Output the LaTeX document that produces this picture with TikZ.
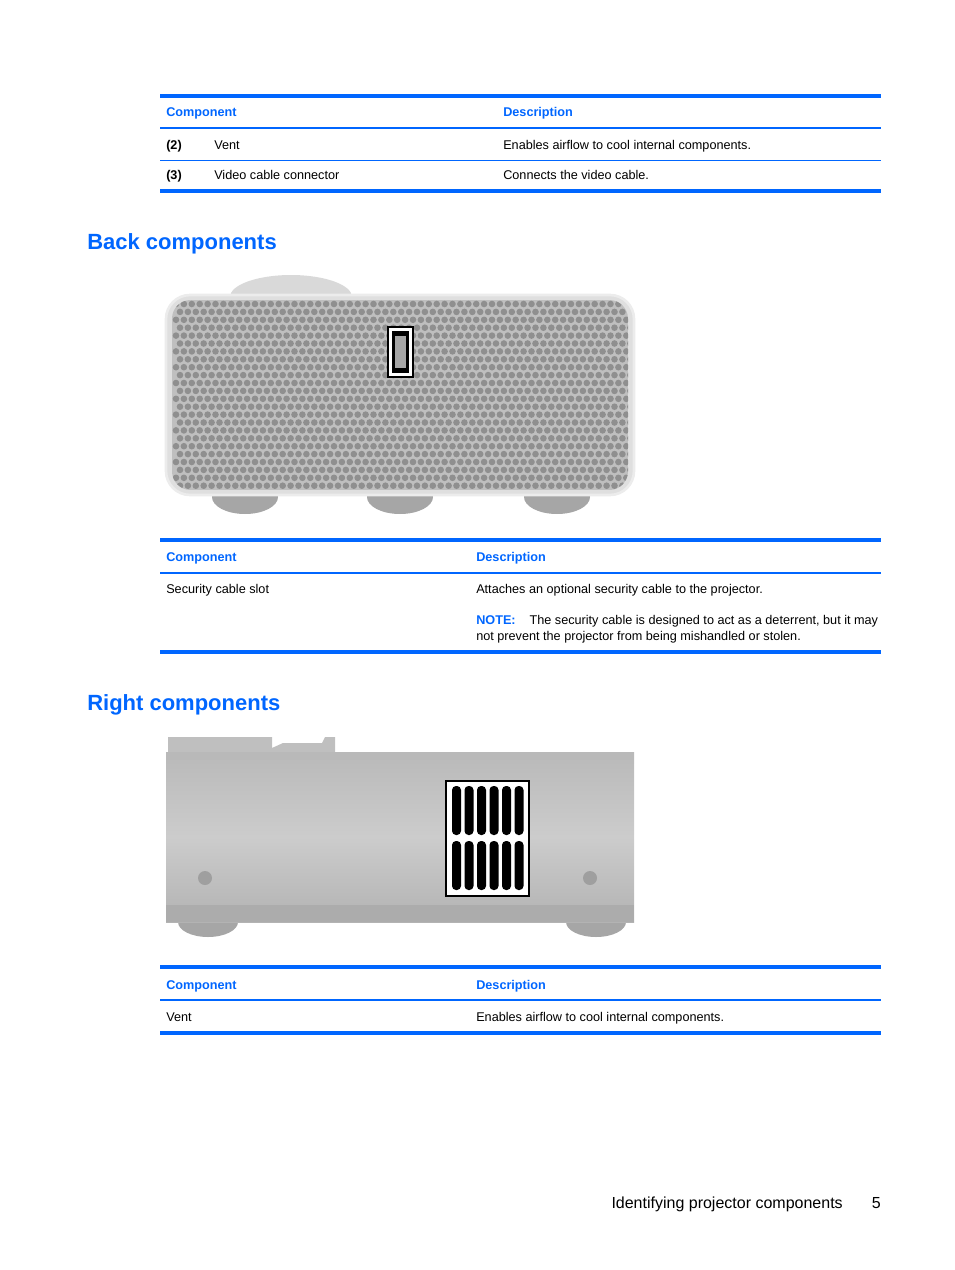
\documentclass[tikz,border=0pt]{standalone}
\usepackage{fontspec}
\setmainfont{Liberation Sans}
\definecolor{hpblue}{RGB}{0,102,255}
\begin{document}
\begin{tikzpicture}[x=0.75pt,y=-0.75pt,
thick rule/.style={hpblue,line width=3pt},
mid rule/.style={hpblue,line width=1.5pt},
thin rule/.style={hpblue,line width=0.6pt},
head/.style={anchor=base west,inner sep=0pt,text=hpblue,font=\fontsize{9.5}{11}\selectfont\bfseries},
cell/.style={anchor=base west,inner sep=0pt,font=\fontsize{9.5}{11}\selectfont},
title/.style={anchor=base west,inner sep=0pt,text=hpblue,font=\fontsize{16.5}{20}\selectfont\bfseries}
]
\useasboundingbox (0,0) rectangle (954,1270);
% first table
\draw[thick rule] (160,96) -- (881,96);
\node[head] (c1) at (166,117) {Component};
\node[head] (d1) at (503,117) {Description};
\draw[mid rule] (160,128) -- (881,128);
\node[cell,font=\fontsize{9.5}{11}\selectfont\bfseries] (n2) at (166,149) {(2)};
\node[cell] (r2) at (214,149) {Vent};
\node[cell] (e2) at (503,149) {Enables airflow to cool internal components.};
\draw[thin rule] (160,160) -- (881,160);
\node[cell,font=\fontsize{9.5}{11}\selectfont\bfseries] (n3) at (166,179) {(3)};
\node[cell] (r3) at (214,179) {Video cable connector};
\node[cell] (e3) at (503,179) {Connects the video cable.};
\draw[thick rule] (160,191) -- (881,191);
% back components
\node[title] (back) at (87,249) {Back components};
\fill[gray!30] (230,297) arc[x radius=61,y radius=22,start angle=180,end angle=360] -- cycle;
\foreach \fx in {245,400,557}
  \fill[gray!70] (\fx,497) ellipse[x radius=33,y radius=17];
\fill[gray!25,draw=gray!15,line width=2pt,rounded corners=18] (166,295) rectangle (634,495);
\begin{scope}
\clip[rounded corners=14] (172,300) rectangle (628,490);
\fill[gray!50] (172,300) rectangle (628,490);
\foreach \r in {0,...,23}{
  \pgfmathsetmacro\yy{304+\r*7.9}
  \pgfmathsetmacro\off{mod(\r,2)*4}
  \foreach \c in {0,...,57}
    \fill[gray!88] ({176+\off+\c*7.9},\yy) circle[radius=3.3];
}
\end{scope}
\fill[white,draw=black,line width=1pt] (388,327) rectangle (413,377);
\fill[black] (392,331) rectangle (409,373);
\fill[gray!70] (395,336) rectangle (406,368);
% second table
\draw[thick rule] (160,540) -- (881,540);
\node[head] (c2) at (166,561) {Component};
\node[head] (d2) at (476,561) {Description};
\draw[mid rule] (160,573) -- (881,573);
\node[cell] (s1) at (166,593) {Security cable slot};
\node[cell] (s2) at (476,593) {Attaches an optional security cable to the projector.};
\node[cell] (s3) at (476,624) {\textcolor{hpblue}{\bfseries NOTE:}\hspace{1.1em}The security cable is designed to act as a deterrent, but it may};
\node[cell] (s4) at (476,640) {not prevent the projector from being mishandled or stolen.};
\draw[thick rule] (160,652) -- (881,652);
% right components
\node[title] (right) at (87,710) {Right components};
\fill[gray!70] (208,922) ellipse[x radius=30,y radius=15];
\fill[gray!70] (596,922) ellipse[x radius=30,y radius=15];
\fill[gray!50] (168,737) -- (272,737) -- (272,748) -- (283,743) -- (322,743) -- (325,737) -- (335,737) -- (335,752) -- (168,752) -- cycle;
\shade[top color=gray!55,bottom color=gray!60,middle color=gray!40] (166,752) rectangle (634,922);
\fill[gray!65] (166,905) rectangle (634,922);
\fill[gray!55] (166,752) rectangle (634,760);
\fill[gray!75] (205,878) circle[radius=7];
\fill[gray!75] (590,878) circle[radius=7];
\fill[white,draw=black,line width=1pt] (446,781) rectangle (529,896);
\foreach \i in {0,...,5}{
  \fill[black,rounded corners=3] ({452+\i*12.5},786) rectangle ({461+\i*12.5},835);
  \fill[black,rounded corners=3] ({452+\i*12.5},841) rectangle ({461+\i*12.5},890);
}
% third table
\draw[thick rule] (160,967) -- (881,967);
\node[head] (c3) at (166,989) {Component};
\node[head] (d3) at (476,989) {Description};
\draw[mid rule] (160,1000) -- (881,1000);
\node[cell] (v1) at (166,1021) {Vent};
\node[cell] (v2) at (476,1021) {Enables airflow to cool internal components.};
\draw[thick rule] (160,1033) -- (881,1033);
% footer
\node[anchor=base east,inner sep=0pt,font=\fontsize{12}{14}\selectfont] (foot) at (843,1208) {Identifying projector components};
\node[anchor=base east,inner sep=0pt,font=\fontsize{12}{14}\selectfont] (page) at (881,1208) {5};
\end{tikzpicture}
\end{document}
